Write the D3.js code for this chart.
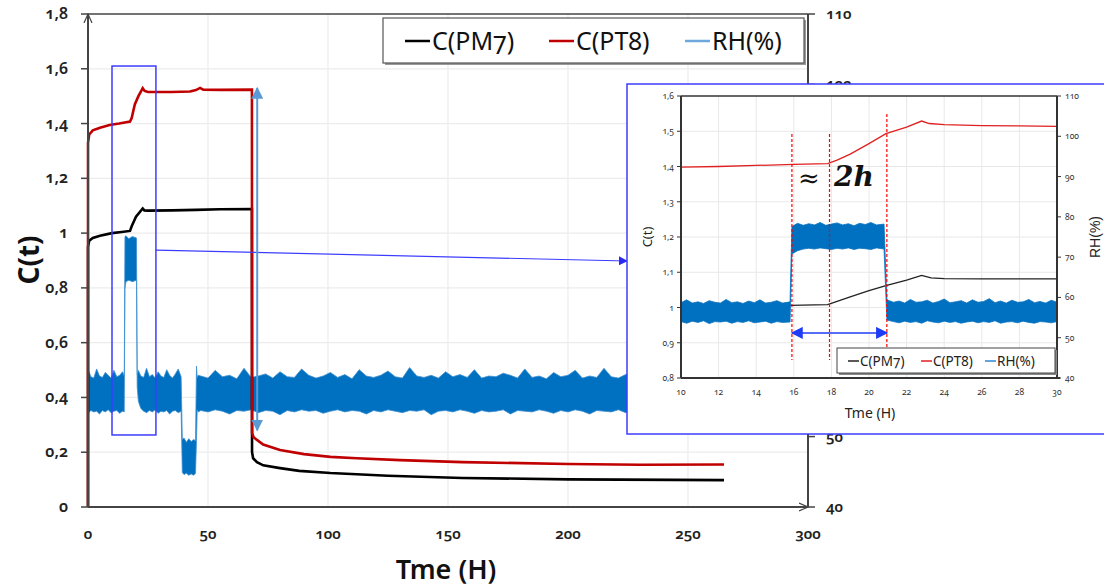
<!DOCTYPE html>
<html><head><meta charset="utf-8">
<script src="https://cdn.jsdelivr.net/npm/d3@7"></script>
<style>
body{margin:0;background:#fff;}
svg{display:block;font-family:"Noto Sans",Lato,sans-serif;font-variant-numeric:oldstyle-nums;}
</style></head><body>
<svg id="chart" width="1104" height="586"></svg>
<script>
// ---------- main chart data ----------
const xTicks = [0, 50, 100, 150, 200, 250, 300];
const yLeftTicks = [0, 0.2, 0.4, 0.6, 0.8, 1, 1.2, 1.4, 1.6, 1.8];
const yLeftLabels = ["0", "0,2", "0,4", "0,6", "0,8", "1", "1,2", "1,4", "1,6", "1,8"];
const yRightTicks = [40, 50, 60, 70, 80, 90, 100, 110];

const pm7T = [0, 0.01, 0.5, 2, 5, 10, 14, 17.5, 18.2, 20, 22.8, 23.5, 25, 35, 45, 55, 68.3, 68.35, 68.8, 70.4, 73, 80, 88, 101, 125, 156, 200, 265];
const pm7V = [0, 0.95, 0.972, 0.982, 0.99, 1.0, 1.004, 1.008, 1.025, 1.06, 1.09, 1.083, 1.082, 1.083, 1.085, 1.087, 1.088, 0.2, 0.178, 0.164, 0.152, 0.142, 0.132, 0.124, 0.114, 0.106, 0.101, 0.098];

const pt8T = [0, 0.01, 0.5, 2, 5, 9, 13, 17.5, 18.2, 19.5, 21, 22.8, 23.6, 25, 35, 42.5, 45, 46.7, 48, 55, 68.3, 68.35, 69, 70.4, 73, 80, 90, 101, 112, 130, 156, 200, 230, 265];
const pt8V = [0, 1.33, 1.36, 1.375, 1.385, 1.395, 1.4, 1.407, 1.42, 1.47, 1.5, 1.529, 1.519, 1.515, 1.515, 1.517, 1.522, 1.53, 1.524, 1.523, 1.524, 0.27, 0.255, 0.245, 0.228, 0.208, 0.193, 0.183, 0.178, 0.171, 0.164, 0.157, 0.154, 0.155];

// RH envelope (min / max of the noisy signal), right axis
const rhT = [0, 0.3, 1.2, 2.4, 3.6, 4.8, 6, 7.2, 8.4, 9.6, 10.8, 12, 13.2, 14.4, 15.1,
  15.4, 15.8, 17, 18.5, 20.2,
  20.5, 21, 22, 23.2, 24.4, 25.6, 26.8, 28, 29.2, 30.4, 31.6, 32.8, 34, 35.2, 36.4, 37.6, 38.8,
  39.3, 40, 41, 42, 43, 44, 44.8,
  45.2, 45.5, 45.9,
  47, 50, 53, 56, 59, 62, 65, 68, 71, 74, 77, 80, 83, 86, 89, 92, 95, 98, 101, 104, 107, 110, 113, 116, 119, 122, 125, 128, 131, 134, 137, 140, 143, 146, 149, 152, 155, 158, 161, 164, 167, 170, 173, 176, 179, 182, 185, 188, 191, 194, 197, 200, 203, 206, 209, 212, 215, 218, 221, 224, 227, 230, 233, 236, 239, 242, 245, 248, 251, 254, 257, 260, 263, 265];
const rhHi = [58.4, 59.3, 58.5, 58.3, 59.6, 58.6, 58.4, 59.1, 58.7, 58.3, 59.4, 58.5, 58.7, 59.2, 58.6,
  78.4, 78.5, 78.1, 78.4, 78.2,
  58.8, 59.4, 58.6, 58.4, 59.7, 58.5, 58.8, 58.3, 59.2, 58.6, 58.4, 59.5, 58.7, 58.3, 58.9, 59.6, 58.5,
  49.6, 49.8, 49.2, 49.7, 49.3, 49.6, 49.4,
  60.0, 58.4, 58.7,
  58.6, 58.3, 59.4, 58.5, 58.7, 58.2, 59.7, 58.4, 58.6, 58.9, 58.3, 59.2, 58.5, 58.4, 59.6, 58.7, 58.3, 58.6, 59.1, 58.4, 58.8, 58.2, 59.5, 58.6, 58.4, 58.7, 59.3, 58.5, 58.3, 59.8, 58.6, 58.4, 58.7, 58.3, 59.2, 58.5, 58.8, 58.4, 59.5, 58.3, 58.6, 58.5, 59.0, 58.7, 58.3, 59.6, 58.4, 58.6, 58.2, 59.1, 58.5, 58.7, 59.4, 58.3, 58.6, 58.4, 59.7, 58.5, 58.3, 58.8, 59.2, 58.4, 58.6, 58.3, 59.5, 58.7, 58.4, 58.6, 59.0, 58.3, 58.5, 59.3, 58.6, 58.5];
const rhLo = [53.6, 53.4, 53.7, 53.5, 53.6, 53.2, 53.7, 53.5, 53.8, 53.4, 53.6, 53.7, 53.3, 53.6, 53.5,
  71.0, 72.0, 72.2, 72.0, 72.2,
  57.0, 55.0, 54.0, 53.6, 53.4, 53.7, 53.5, 53.8, 53.3, 53.6, 53.5, 53.7, 53.2, 53.6, 53.7, 53.4, 53.6,
  44.9, 44.6, 44.8, 44.5, 44.7, 44.5, 44.8,
  49.5, 53.8, 53.5,
  53.7, 53.5, 53.8, 53.6, 53.2, 53.7, 53.6, 53.8, 53.4, 53.7, 53.6, 53.1, 53.7, 53.5, 53.8, 53.6, 53.7, 53.3, 53.6, 53.8, 53.5, 53.7, 53.6, 53.2, 53.7, 53.5, 53.8, 53.6, 53.4, 53.7, 53.6, 53.8, 53.1, 53.6, 53.7, 53.5, 53.8, 53.6, 53.3, 53.7, 53.5, 53.6, 53.8, 53.2, 53.7, 53.6, 53.5, 53.8, 53.6, 53.3, 53.7, 53.5, 53.8, 53.6, 53.2, 53.7, 53.6, 53.5, 53.8, 53.4, 53.7, 53.6, 53.5, 53.8, 53.3, 53.6, 53.7, 53.5, 53.8, 53.6, 53.2, 53.7, 53.5, 53.6];

// ---------- inset data ----------
const iXTicks = [10, 12, 14, 16, 18, 20, 22, 24, 26, 28, 30];
const iYLeftTicks = [0.8, 0.9, 1, 1.1, 1.2, 1.3, 1.4, 1.5, 1.6];
const iYLeftLabels = ["0,8", "0,9", "1", "1,1", "1,2", "1,3", "1,4", "1,5", "1,6"];
const iYRightTicks = [40, 50, 60, 70, 80, 90, 100, 110];

const ipt8T = [10, 12, 14, 16, 17.8, 18.3, 19, 20, 20.9, 22, 22.8, 23.2, 24, 26, 28, 30];
const ipt8V = [1.398, 1.400, 1.403, 1.406, 1.408, 1.418, 1.435, 1.465, 1.493, 1.512, 1.529, 1.522, 1.519, 1.516, 1.515, 1.514];
const ipm7T = [10, 14, 15.8, 17.8, 19, 20, 20.9, 22, 22.8, 23.3, 24, 26, 28, 30];
const ipm7V = [1.0, 1.004, 1.006, 1.008, 1.03, 1.048, 1.062, 1.078, 1.091, 1.084, 1.082, 1.081, 1.081, 1.081];

const irhT = [10, 10.3, 10.6, 10.9, 11.2, 11.5, 11.8, 12.1, 12.4, 12.7, 13, 13.3, 13.6, 13.9, 14.2, 14.5, 14.8, 15.1, 15.4, 15.8,
  15.9, 16.2, 16.5, 16.8, 17.1, 17.4, 17.7, 18, 18.3, 18.6, 18.9, 19.2, 19.5, 19.8, 20.1, 20.4, 20.8,
  20.95, 21.3, 21.6, 21.9, 22.2, 22.5, 22.8, 23.1, 23.4, 23.7, 24, 24.3, 24.6, 24.9, 25.2, 25.5, 25.8, 26.1, 26.4, 26.7, 27, 27.3, 27.6, 27.9, 28.2, 28.5, 28.8, 29.1, 29.4, 29.7, 30];
const irhHi = [58.7, 59.4, 58.6, 58.9, 58.5, 59.2, 58.8, 58.6, 59.5, 58.7, 58.9, 58.5, 59.1, 58.7, 59.4, 58.6, 58.8, 59.2, 58.6, 58.9,
  77.6, 78.4, 77.9, 78.3, 78.0, 78.6, 77.9, 78.2, 78.5, 78.0, 78.3, 77.8, 78.4, 78.1, 78.6, 78.0, 78.2,
  59.4, 58.8, 59.1, 58.6, 59.5, 58.8, 58.9, 59.3, 58.6, 59.0, 59.6, 58.7, 58.9, 59.2, 58.6, 59.4, 58.8, 59.0, 59.7, 58.7, 59.1, 58.6, 59.3, 58.8, 58.9, 59.5, 58.7, 59.0, 58.6, 59.3, 58.8];
const irhLo = [54.0, 53.6, 54.1, 53.8, 54.2, 53.5, 54.0, 53.9, 54.1, 53.6, 54.0, 53.8, 54.2, 53.7, 53.9, 54.1, 53.6, 54.0, 53.8, 53.9,
  70.8, 71.6, 72.0, 72.2, 72.0, 72.3, 72.1, 71.9, 72.2, 72.0, 72.3, 71.9, 72.2, 72.1, 71.9, 72.3, 72.0,
  54.4, 54.0, 53.7, 54.1, 53.8, 54.0, 53.6, 54.2, 53.9, 53.7, 54.1, 53.8, 54.0, 53.6, 53.9, 54.1, 53.7, 54.0, 53.8, 54.2, 53.6, 53.9, 54.0, 53.7, 54.1, 53.8, 53.6, 54.0, 53.9, 53.7, 54.0];

const seriesNames = ["C(PM7)", "C(PT8)", "RH(%)"];

// ---------- drawing ----------
const svg = d3.select("#chart");
const zip = (t, v) => t.map((d, i) => [d, v[i]]);
const zip3 = (t, a, b) => t.map((d, i) => [d, a[i], b[i]]);

const x = d3.scaleLinear().domain([0, 300]).range([88, 808]);
const yL = d3.scaleLinear().domain([0, 1.8]).range([507, 14]);
const yR = d3.scaleLinear().domain([40, 110]).range([507, 14]);

// inset frame (panel position)
const inset = { x: 627, y: 84, w: 480, h: 350 };

const defs = svg.append("defs");
function marker(id, color, w, h) {
  defs.append("marker").attr("id", id).attr("viewBox", "0 0 10 10").attr("refX", 9).attr("refY", 5)
    .attr("markerWidth", w).attr("markerHeight", h).attr("orient", "auto-start-reverse")
    .attr("markerUnits", "userSpaceOnUse")
    .append("path").attr("d", "M0,0L10,5L0,10z").attr("fill", color);
}
marker("arrLB", "#5b9bd5", 12, 12);
marker("arrB", "#2b2bf0", 9, 9);
marker("arrBI", "#1f3cf5", 12, 12);
defs.append("marker").attr("id", "openArr").attr("viewBox", "0 0 10 10").attr("refX", 9).attr("refY", 5)
  .attr("markerWidth", 10).attr("markerHeight", 10).attr("orient", "auto").attr("markerUnits", "userSpaceOnUse")
  .append("path").attr("d", "M0,1L9,5L0,9").attr("fill", "none").attr("stroke", "#444").attr("stroke-width", 1.2);

// gridlines
const grid = svg.append("g");
grid.selectAll("line.v").data(xTicks.slice(1, -1)).join("line")
  .attr("x1", d => x(d)).attr("x2", d => x(d)).attr("y1", 14).attr("y2", 507)
  .attr("stroke", "#ececec").attr("stroke-width", 1.2);
grid.selectAll("line.h").data(yLeftTicks.slice(1, -1)).join("line")
  .attr("x1", 88).attr("x2", 808).attr("y1", d => yL(d)).attr("y2", d => yL(d))
  .attr("stroke", "#ececec").attr("stroke-width", 1.2);

// RH band
const rhArea = d3.area().x(d => x(d[0])).y0(d => yR(d[1])).y1(d => yR(d[2]));
svg.append("path").datum(zip3(rhT, rhLo, rhHi)).attr("d", rhArea)
  .attr("fill", "#0070c0").attr("stroke", "#3d8fd0").attr("stroke-width", 0.8);

// C lines
const lineL = d3.line().x(d => x(d[0])).y(d => yL(d[1]));
svg.append("path").datum(zip(pm7T, pm7V)).attr("d", lineL).attr("fill", "none").attr("stroke", "#000").attr("stroke-width", 2.6);
svg.append("path").datum(zip(pt8T, pt8V)).attr("d", lineL).attr("fill", "none").attr("stroke", "#c00000").attr("stroke-width", 2.6);

// axes frame
const ax = svg.append("g").attr("stroke", "#444").attr("fill", "none");
ax.append("line").attr("x1", 88).attr("x2", 808).attr("y1", 14).attr("y2", 14).attr("stroke-width", 1.5);
ax.append("line").attr("x1", 88).attr("x2", 88).attr("y1", 507).attr("y2", 14).attr("stroke-width", 2).attr("marker-end", "url(#openArr)");
ax.append("line").attr("x1", 88).attr("x2", 808).attr("y1", 507).attr("y2", 507).attr("stroke-width", 2).attr("marker-end", "url(#openArr)");
ax.append("line").attr("x1", 808).attr("x2", 808).attr("y1", 507).attr("y2", 14).attr("stroke-width", 2);
ax.selectAll("line.lt").data(yLeftTicks).join("line").attr("x1", 81).attr("x2", 88)
  .attr("y1", d => yL(d)).attr("y2", d => yL(d)).attr("stroke-width", 1.5);
ax.selectAll("line.rt").data(yRightTicks).join("line").attr("x1", 808).attr("x2", 815)
  .attr("y1", d => yR(d)).attr("y2", d => yR(d)).attr("stroke-width", 1.5);

const lbl = svg.append("g").attr("fill", "#222").attr("font-weight", 600);
lbl.selectAll("text.yl").data(yLeftTicks).join("text").attr("x", 68).attr("y", d => yL(d) + 5)
  .attr("text-anchor", "end").attr("font-size", 16).text((d, i) => yLeftLabels[i]);
lbl.selectAll("text.xl").data(xTicks).join("text").attr("x", d => x(d)).attr("y", 539)
  .attr("text-anchor", "middle").attr("font-size", 15).text(d => d);
// right-axis labels that the inset panel covers entirely are not drawn
const visibleRight = yRightTicks.filter(d => yR(d) <= inset.y + 2 || yR(d) >= inset.y + inset.h - 2);
lbl.selectAll("text.yr").data(visibleRight).join("text").attr("x", 826).attr("y", d => yR(d) + 5)
  .attr("text-anchor", "start").attr("font-size", 15).text(d => d);
svg.append("text").attr("transform", "translate(39,260) rotate(-90)").attr("text-anchor", "middle")
  .attr("font-size", 28).attr("font-weight", 700).attr("fill", "#111").text("C(t)");
svg.append("text").attr("x", 446).attr("y", 579).attr("text-anchor", "middle")
  .attr("font-size", 27).attr("font-weight", 600).attr("fill", "#111").text("Tme (H)");

// main legend
const leg = svg.append("g");
leg.append("rect").attr("x", 385).attr("y", 20).attr("width", 421).attr("height", 45).attr("fill", "#999");
leg.append("rect").attr("x", 383).attr("y", 18).attr("width", 421).attr("height", 45).attr("fill", "#fff").attr("stroke", "#555").attr("stroke-width", 1.2);
const legX = [405, 549, 685];
const legC = ["#000", "#c00000", "#6fa8dc"];
seriesNames.forEach((s, i) => {
  leg.append("line").attr("x1", legX[i]).attr("x2", legX[i] + 25).attr("y1", 41).attr("y2", 41).attr("stroke", legC[i]).attr("stroke-width", 2.5);
  leg.append("text").attr("x", legX[i] + 27).attr("y", 50).attr("font-size", 25).attr("fill", "#111").text(s);
});

// zoom rectangle + connector
svg.append("rect").attr("x", x(10)).attr("y", yL(1.61)).attr("width", x(28.3) - x(10)).attr("height", yL(0.263) - yL(1.61))
  .attr("fill", "none").attr("stroke", "#3c3cff").attr("stroke-width", 1.5);
svg.append("line").attr("x1", x(28.3)).attr("y1", yL(0.938)).attr("x2", inset.x).attr("y2", 261)
  .attr("stroke", "#3c3cff").attr("stroke-width", 1.2).attr("marker-end", "url(#arrB)");

// light blue vertical double arrow
svg.append("line").attr("x1", x(70.5)).attr("x2", x(70.5)).attr("y1", yL(0.28)).attr("y2", yL(1.53))
  .attr("stroke", "#5b9bd5").attr("stroke-width", 2).attr("marker-start", "url(#arrLB)").attr("marker-end", "url(#arrLB)");

// ---------- inset ----------
const ins = svg.append("g");
ins.append("rect").attr("x", inset.x).attr("y", inset.y).attr("width", inset.w).attr("height", inset.h)
  .attr("fill", "#fff").attr("stroke", "#3c3cff").attr("stroke-width", 1.5);

const xi = d3.scaleLinear().domain([10, 30]).range([681, 1057]);
const yiL = d3.scaleLinear().domain([0.8, 1.6]).range([378, 96]);
const yiR = d3.scaleLinear().domain([40, 110]).range([378, 96]);

ins.selectAll("line.iv").data(iXTicks.slice(1, -1)).join("line")
  .attr("x1", d => xi(d)).attr("x2", d => xi(d)).attr("y1", 96).attr("y2", 378).attr("stroke", "#e8e8e8");
ins.selectAll("line.ih").data(iYLeftTicks.slice(1, -1)).join("line")
  .attr("x1", 681).attr("x2", 1057).attr("y1", d => yiL(d)).attr("y2", d => yiL(d)).attr("stroke", "#e8e8e8");

const lineI = d3.line().x(d => xi(d[0])).y(d => yiL(d[1]));
ins.append("path").datum(zip(ipm7T, ipm7V)).attr("d", lineI).attr("fill", "none").attr("stroke", "#222").attr("stroke-width", 1.3);
ins.append("path").datum(zip(ipt8T, ipt8V)).attr("d", lineI).attr("fill", "none").attr("stroke", "#e02020").attr("stroke-width", 1.3);
const iArea = d3.area().x(d => xi(d[0])).y0(d => yiR(d[1])).y1(d => yiR(d[2]));
ins.append("path").datum(zip3(irhT, irhLo, irhHi)).attr("d", iArea)
  .attr("fill", "#0070c0").attr("stroke", "#0a74c2").attr("stroke-width", 0.8);

// inset axes
const iax = ins.append("g").attr("stroke", "#333").attr("fill", "none");
iax.append("line").attr("x1", 681).attr("x2", 1057).attr("y1", 96).attr("y2", 96).attr("stroke-width", 1.5);
iax.append("line").attr("x1", 681).attr("x2", 681).attr("y1", 378).attr("y2", 96).attr("stroke-width", 2);
iax.append("line").attr("x1", 681).attr("x2", 1060).attr("y1", 378).attr("y2", 378).attr("stroke-width", 2.2);
iax.append("line").attr("x1", 1057).attr("x2", 1057).attr("y1", 378).attr("y2", 96).attr("stroke-width", 2);
iax.selectAll("line.a").data(iYLeftTicks).join("line").attr("x1", 677).attr("x2", 681).attr("y1", d => yiL(d)).attr("y2", d => yiL(d));
iax.selectAll("line.b").data(iYRightTicks).join("line").attr("x1", 1057).attr("x2", 1061).attr("y1", d => yiR(d)).attr("y2", d => yiR(d));

const il = ins.append("g").attr("fill", "#333").attr("font-size", 8.5);
il.selectAll("text.a").data(iYLeftTicks).join("text").attr("x", 674).attr("y", d => yiL(d) + 3).attr("text-anchor", "end").text((d, i) => iYLeftLabels[i]);
il.selectAll("text.b").data(iYRightTicks).join("text").attr("x", 1065).attr("y", d => yiR(d) + 3).text(d => d);
il.selectAll("text.c").data(iXTicks).join("text").attr("x", d => xi(d)).attr("y", 395).attr("text-anchor", "middle").text(d => d);
ins.append("text").attr("x", 870).attr("y", 418).attr("text-anchor", "middle").attr("font-size", 14).attr("fill", "#222").text("Tme (H)");
ins.append("text").attr("transform", "translate(652,237) rotate(-90)").attr("text-anchor", "middle").attr("font-size", 13).attr("fill", "#222").text("C(t)");
ins.append("text").attr("transform", "translate(1100,237) rotate(-90)").attr("text-anchor", "middle").attr("font-size", 14).attr("fill", "#222").attr("font-family", "Liberation Sans, sans-serif").text("RH(%)");

// red dashed markers
const dashT = [15.9, 17.9, 20.95];
const dashTop = [1.492, 1.492, 1.549];
ins.selectAll("line.d").data(dashT).join("line")
  .attr("x1", d => xi(d)).attr("x2", d => xi(d)).attr("y1", (d, i) => yiL(dashTop[i])).attr("y2", yiL(0.851))
  .attr("stroke", "#ff0000").attr("stroke-width", 1.2).attr("stroke-dasharray", "3,2");
ins.append("line").attr("x1", xi(15.9)).attr("x2", xi(20.95)).attr("y1", yiL(0.928)).attr("y2", yiL(0.928))
  .attr("stroke", "#1f3cf5").attr("stroke-width", 1.5).attr("marker-start", "url(#arrBI)").attr("marker-end", "url(#arrBI)");

ins.append("text").attr("x", 798).attr("y", 187).attr("fill", "#111")
  .attr("font-family", "DejaVu Serif, serif").attr("font-size", 26).text("≈");
ins.append("text").attr("x", 834).attr("y", 186).attr("fill", "#111")
  .attr("font-family", "DejaVu Serif, serif").attr("font-size", 28).attr("font-weight", 700).attr("font-style", "italic").text("2h");

// inset legend
const ileg = ins.append("g");
ileg.append("rect").attr("x", 839).attr("y", 350).attr("width", 218).attr("height", 25).attr("fill", "#888");
ileg.append("rect").attr("x", 837).attr("y", 348).attr("width", 218).attr("height", 25).attr("fill", "#fff").attr("stroke", "#444").attr("stroke-width", 1);
const ilegX = [848, 921, 985];
const ilegC = ["#222", "#e02020", "#2e86d0"];
seriesNames.forEach((s, i) => {
  ileg.append("line").attr("x1", ilegX[i]).attr("x2", ilegX[i] + 11).attr("y1", 361).attr("y2", 361).attr("stroke", ilegC[i]).attr("stroke-width", 1.5);
  ileg.append("text").attr("x", ilegX[i] + 12).attr("y", 366).attr("font-size", 13.5).attr("fill", "#222").text(s);
});
</script>
</body></html>
